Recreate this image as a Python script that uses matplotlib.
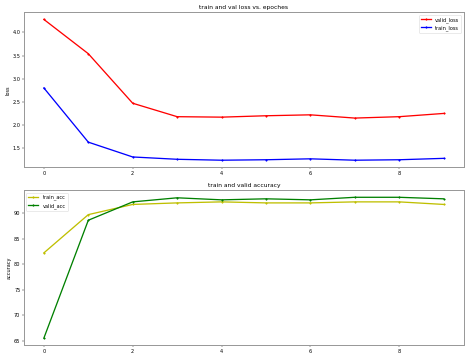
import matplotlib
matplotlib.use('Agg')
import matplotlib.pyplot as plt
import numpy as np

epochs = list(range(10))

valid_loss = [4.28, 3.54, 2.47, 2.18, 2.17, 2.20, 2.22, 2.15, 2.18, 2.25]
train_loss = [2.80, 1.63, 1.31, 1.26, 1.24, 1.25, 1.27, 1.24, 1.25, 1.28]

train_acc = [82.2, 89.7, 91.7, 92.0, 92.2, 92.0, 92.0, 92.2, 92.2, 91.7]
valid_acc = [65.5, 88.6, 92.2, 93.0, 92.6, 92.8, 92.6, 93.1, 93.1, 92.8]

# big figure rendered at a low dpi, like the downscaled original
DPI = 36
fig = plt.figure(figsize=(469 / DPI, 359 / DPI), dpi=DPI)

ax1 = fig.add_subplot(2, 1, 1)
ax1.plot(epochs, valid_loss, '.-', color='red', linewidth=2.6, label='valid_loss')
ax1.plot(epochs, train_loss, '.-', color='blue', linewidth=2.6, label='train_loss')
ax1.set_ylabel('loss')
ax1.set_title('train and val loss vs. epoches')
ax1.legend()

ax2 = fig.add_subplot(2, 1, 2)
ax2.plot(epochs, train_acc, '.-', color='y', linewidth=2.6, label='train_acc')
ax2.plot(epochs, valid_acc, '.-', color='green', linewidth=2.6, label='valid_acc')
ax2.set_ylabel('accuracy')
ax2.set_title('train and valid accuracy')
ax2.legend()

for ax in (ax1, ax2):
    for s in ax.spines.values():
        s.set_color('0.6')
        s.set_linewidth(2)

fig.tight_layout(h_pad=1.5)
fig.savefig('out.png', dpi=DPI)
